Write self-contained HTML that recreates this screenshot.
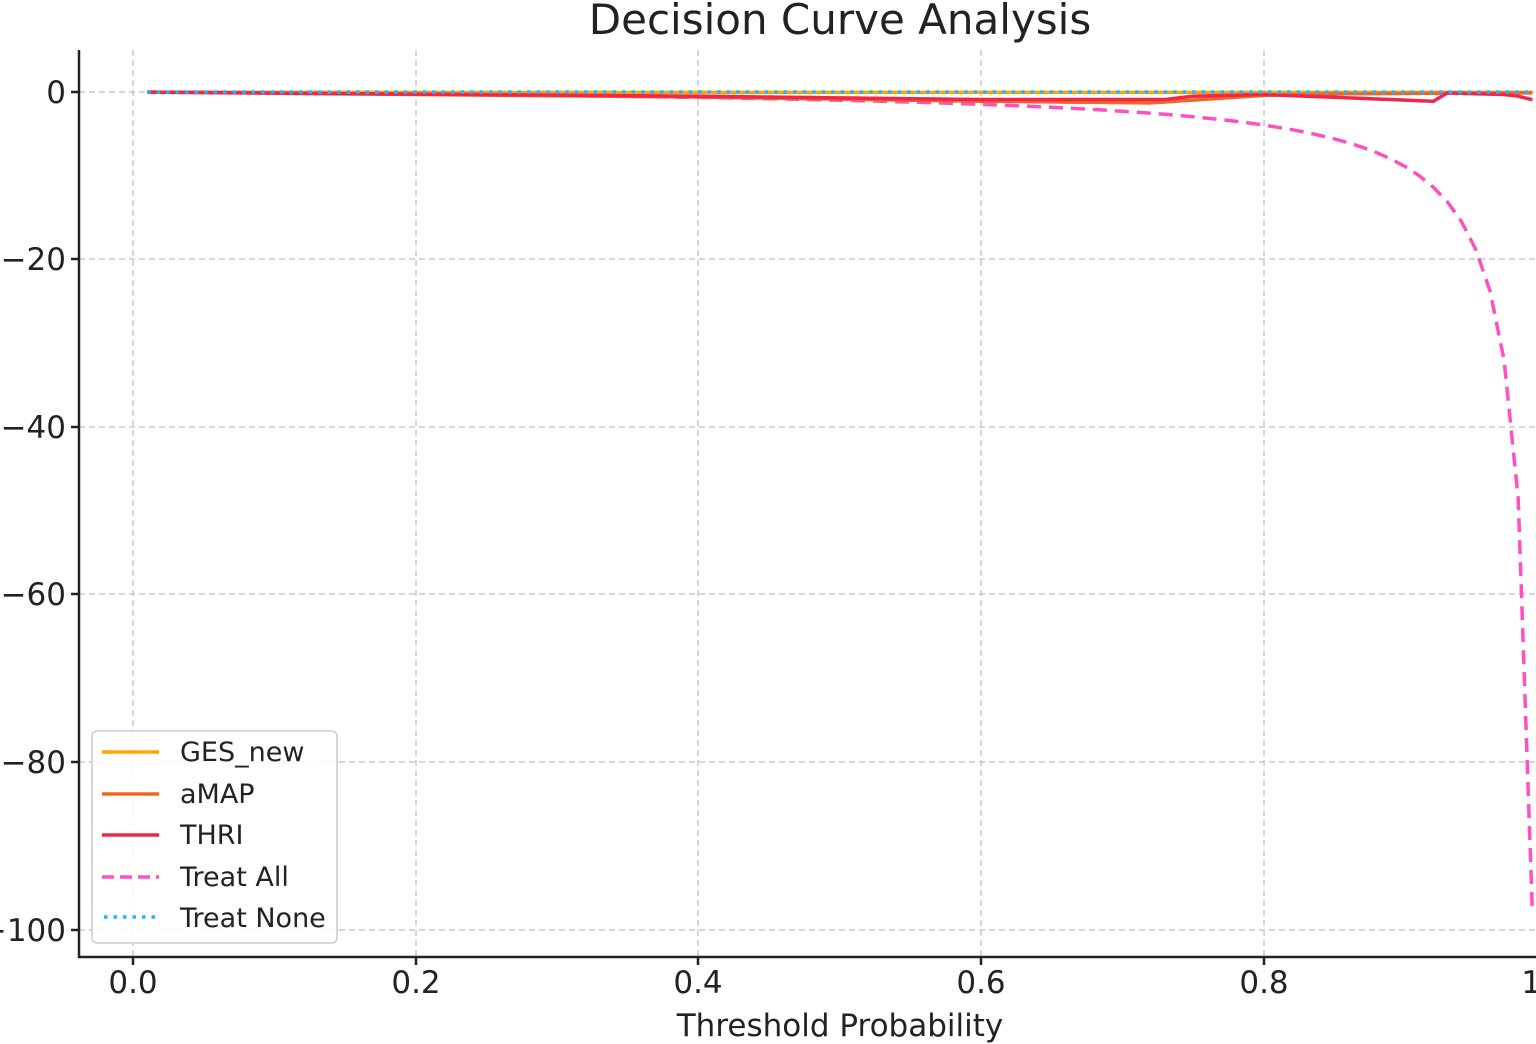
<!DOCTYPE html>
<html><head><meta charset="utf-8"><style>
html,body{margin:0;padding:0;background:#fff;width:1536px;height:1044px;overflow:hidden}
svg text{font-family:"DejaVu Sans","Liberation Sans",sans-serif;fill:#222}
</style></head><body>
<svg id="s" width="1536" height="1044" xmlns="http://www.w3.org/2000/svg">
<g stroke="#c8c8c8" stroke-width="1.5" stroke-dasharray="6,4" fill="none">
<line x1="133" y1="50" x2="133" y2="957"/><line x1="416" y1="50" x2="416" y2="957"/>
<line x1="698" y1="50" x2="698" y2="957"/><line x1="981" y1="50" x2="981" y2="957"/>
<line x1="1264" y1="50" x2="1264" y2="957"/>
<line x1="79" y1="92" x2="1536" y2="92"/><line x1="79" y1="259" x2="1536" y2="259"/>
<line x1="79" y1="427" x2="1536" y2="427"/><line x1="79" y1="594" x2="1536" y2="594"/>
<line x1="79" y1="762" x2="1536" y2="762"/><line x1="79" y1="930" x2="1536" y2="930"/>
</g>
<g id="curves" fill="none" stroke-width="3.5"></g>
<g stroke="#222" stroke-width="2.5">
<line x1="79" y1="50" x2="79" y2="958"/><line x1="78" y1="957" x2="1536" y2="957"/>
<line x1="71" y1="92" x2="79" y2="92"/><line x1="71" y1="259" x2="79" y2="259"/><line x1="71" y1="427" x2="79" y2="427"/><line x1="71" y1="594" x2="79" y2="594"/><line x1="71" y1="762" x2="79" y2="762"/><line x1="71" y1="930" x2="79" y2="930"/>
<line x1="133" y1="957" x2="133" y2="965"/><line x1="416" y1="957" x2="416" y2="965"/><line x1="698" y1="957" x2="698" y2="965"/><line x1="981" y1="957" x2="981" y2="965"/><line x1="1264" y1="957" x2="1264" y2="965"/>
</g>
<g font-size="31" text-anchor="end">
<text x="66" y="103">0</text><text x="66" y="270">−20</text><text x="66" y="438">−40</text><text x="66" y="605">−60</text><text x="66" y="773">−80</text><text x="66" y="941">−100</text>
</g>
<g font-size="31" text-anchor="middle">
<text x="133" y="993">0.0</text><text x="416" y="993">0.2</text><text x="698" y="993">0.4</text><text x="981" y="993">0.6</text><text x="1264" y="993">0.8</text><text x="1546" y="993">1.0</text>
<text x="840" y="1036">Threshold Probability</text>
<text x="840" y="34" font-size="42">Decision Curve Analysis</text>
</g>
<rect x="92" y="731" width="245" height="212" rx="5" fill="#fff" fill-opacity="0.85" stroke="#ccc" stroke-width="1.5"/>
<g stroke-width="3.5">
<line x1="102" y1="752" x2="159" y2="752" stroke="#ffa500"/>
<line x1="102" y1="794" x2="159" y2="794" stroke="#f26522"/>
<line x1="102" y1="835" x2="159" y2="835" stroke="#f0264a"/>
<line x1="102" y1="877" x2="159" y2="877" stroke="#ff4fc0" stroke-dasharray="12,6"/>
<line x1="104" y1="917" x2="159" y2="917" stroke="#1ab8ff" stroke-dasharray="3.5,6"/>
</g>
<g font-size="27">
<text x="180" y="761">GES_new</text><text x="180" y="803">aMAP</text><text x="180" y="844">THRI</text><text x="180" y="886">Treat All</text><text x="180" y="927">Treat None</text>
</g>
</svg>
<script>
var X=function(p){return 133+p*1413.5},Y=function(v){return 92-v*8.38};
function path(f,c,da){var d="";for(var i=1;i<=99;i++){var p=i/100;d+=(i==1?"M":"L")+X(p).toFixed(1)+","+Y(f(p)).toFixed(1);}
var e=document.createElementNS("http://www.w3.org/2000/svg","path");e.setAttribute("d",d);e.setAttribute("stroke",c);if(da)e.setAttribute("stroke-dasharray",da);document.getElementById("curves").appendChild(e);}
function interp(pts){return function(p){for(var i=1;i<pts.length;i++){if(p<=pts[i][0]){var a=pts[i-1],b=pts[i];return a[1]+(b[1]-a[1])*(p-a[0])/(b[0]-a[0]);}}return pts[pts.length-1][1];}}
path(function(p){return 0.01-0.99*p/(1-p)},"#ff4fc0","14,8");
path(function(p){return -0.05},"#ffa500");
path(interp([[0,0],[0.4,-0.6],[0.6,-1.1],[0.72,-1.3],[0.8,-0.4],[0.85,-0.2],[1,-0.1]]),"#f26522");
path(interp([[0,0],[0.4,-0.5],[0.6,-0.9],[0.73,-0.9],[0.75,-0.5],[0.8,-0.3],[0.92,-1.1],[0.93,-0.1],[0.97,-0.3],[0.985,-0.6],[1,-1.6]]),"#f0264a");
path(function(p){return 0},"#1ab8ff","3.5,6");
</script>
</body></html>
